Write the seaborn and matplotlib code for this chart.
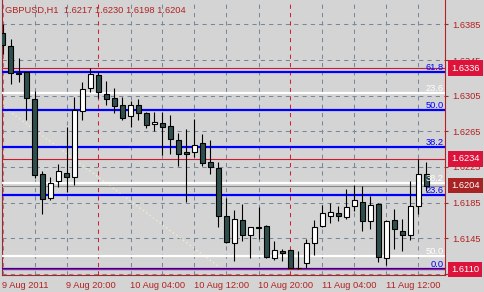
import matplotlib
matplotlib.use("Agg")
import matplotlib.pyplot as plt
import matplotlib.transforms as mtransforms
import seaborn as sns
import pandas as pd
import numpy as np

# ---------------- data ----------------
title_text = "GBPUSD,H1  1.6217 1.6230 1.6198 1.6204"

opens = [1.6375, 1.6361, 1.6330, 1.6331, 1.6301, 1.6217, 1.6190, 1.6209, 1.6218, 1.6214,
         1.6288, 1.6314, 1.6328, 1.6307, 1.6302, 1.6295, 1.6282, 1.6295, 1.6285, 1.6273,
         1.6274, 1.6271, 1.6255, 1.6242, 1.6242, 1.6252, 1.6231, 1.6224, 1.6170, 1.6140,
         1.6165, 1.6149, 1.6157, 1.6159, 1.6123, 1.6130, 1.6132, 1.6112, 1.6117, 1.6140,
         1.6159, 1.6170, 1.6173, 1.6169, 1.6181, 1.6186, 1.6164, 1.6183, 1.6123, 1.6165,
         1.6153, 1.6149, 1.6181, 1.6217]
highs = [1.6386, 1.6369, 1.6347, 1.6331, 1.6310, 1.6220, 1.6214, 1.6228, 1.6270, 1.6303,
         1.6320, 1.6336, 1.6331, 1.6322, 1.6314, 1.6303, 1.6299, 1.6301, 1.6287, 1.6287,
         1.6287, 1.6283, 1.6263, 1.6267, 1.6279, 1.6262, 1.6255, 1.6230, 1.6190, 1.6177,
         1.6183, 1.6158, 1.6180, 1.6160, 1.6142, 1.6133, 1.6132, 1.6130, 1.6144, 1.6165,
         1.6182, 1.6184, 1.6181, 1.6200, 1.6205, 1.6204, 1.6192, 1.6184, 1.6165, 1.6178,
         1.6167, 1.6209, 1.6234, 1.6230]
lows = [1.6352, 1.6318, 1.6320, 1.6278, 1.6212, 1.6172, 1.6188, 1.6202, 1.6197, 1.6205,
        1.6278, 1.6309, 1.6302, 1.6295, 1.6286, 1.6278, 1.6270, 1.6278, 1.6269, 1.6265,
        1.6238, 1.6239, 1.6226, 1.6186, 1.6236, 1.6226, 1.6217, 1.6158, 1.6140, 1.6119,
        1.6142, 1.6123, 1.6144, 1.6123, 1.6121, 1.6119, 1.6111, 1.6110, 1.6112, 1.6126,
        1.6158, 1.6162, 1.6164, 1.6167, 1.6176, 1.6153, 1.6155, 1.6118, 1.6115, 1.6133,
        1.6130, 1.6143, 1.6172, 1.6198]
closes = [1.6362, 1.6330, 1.6329, 1.6302, 1.6216, 1.6189, 1.6207, 1.6220, 1.6214, 1.6289,
          1.6313, 1.6329, 1.6309, 1.6301, 1.6293, 1.6280, 1.6295, 1.6286, 1.6272, 1.6275,
          1.6270, 1.6256, 1.6239, 1.6240, 1.6250, 1.6229, 1.6225, 1.6170, 1.6141, 1.6166,
          1.6148, 1.6157, 1.6156, 1.6124, 1.6132, 1.6128, 1.6112, 1.6111, 1.6140, 1.6158,
          1.6173, 1.6174, 1.6170, 1.6180, 1.6188, 1.6164, 1.6182, 1.6124, 1.6164, 1.6155,
          1.6148, 1.6181, 1.6217, 1.6204]

time_label_bars = [0, 8, 16, 24, 32, 40, 48]
time_labels = ["9 Aug 2011", "9 Aug 20:00", "10 Aug 04:00", "10 Aug 12:00",
               "10 Aug 20:00", "11 Aug 04:00", "11 Aug 12:00"]
day_separator_bars = [12, 36]
grid_bars = [0, 4, 8, 16, 20, 24, 28, 32, 40, 44, 48, 52]

price_ticks = [1.6105, 1.6145, 1.6185, 1.6225, 1.6265, 1.6305, 1.6345, 1.6385]

blue_fib_levels = [1.6110, 1.6193, 1.6247, 1.6289, 1.6332]
blue_fib_labels = ["0.0", "23.6", "38.2", "50.0", "61.8"]
white_fib_levels = [1.6308, 1.6207, 1.6125]
white_fib_labels = ["23.6", "38.2", "50.0"]

red_line_levels = [1.6336, 1.6234, 1.6110]
bid_level = 1.6204
price_boxes = [1.6336, 1.6234, 1.6204, 1.6110]
price_box_colors = ["#dc143c", "#dc143c", "#a82424", "#dc143c"]

trend_x = [-1.0, 27.2]
trend_y = [1.6300, 1.6112]

# ---------------- style ----------------
BG = "#d4d4d4"
DARKRED = "#b22222"
sns.set_style("white", rc={"axes.facecolor": BG, "figure.facecolor": BG})
plt.rcParams["font.family"] = ["Liberation Sans", "DejaVu Sans"]
FS = 6.7

fig = plt.figure(figsize=(4.84, 2.92), dpi=100)
W, H = 484, 292
ax = fig.add_axes([2 / W, 1 - 275 / H, 443 / W, 275 / H])
ax.set_facecolor(BG)

n = len(opens)
df = pd.DataFrame({"bar": np.arange(n), "open": opens, "high": highs,
                   "low": lows, "close": closes})

ax.set_xlim(-0.0625, 55.3125)
ax.set_ylim(1.61036, 1.64124)

# grid
grid_kw = dict(lw=0.75, linestyle=(0, (4, 4)), zorder=1)
for b in grid_bars:
    ax.axvline(b, color="#778899", **grid_kw)
for p in price_ticks:
    ax.axhline(p, color="#778899", **grid_kw)
for b in day_separator_bars:
    ax.axvline(b, color="#cc2233", **grid_kw)

# trend (dotted) line
sns.lineplot(x=trend_x, y=trend_y, ax=ax, color="#f2eed0", lw=1.0,
             linestyle=(0, (1, 2)), zorder=2)

# fib levels
for lv in white_fib_levels:
    ax.axhline(lv, color="white", lw=1.6, zorder=3)
for lv in blue_fib_levels:
    ax.axhline(lv, color="#0000ff", lw=1.6, zorder=3)
for lv in red_line_levels:
    ax.axhline(lv, color="#cc1a33", lw=0.8, zorder=3.2)
ax.axhline(bid_level, color="#8a8a8a", lw=0.8, zorder=3.2)

# candles
up = df["close"] >= df["open"]
ax.vlines(df["bar"], df["low"], df["high"], color="black", lw=0.8, zorder=5)
ax.bar(df["bar"], df["close"] - df["open"], bottom=df["open"], width=0.6,
       color=np.where(up, "white", "#2f4f4f"), edgecolor="black",
       linewidth=0.8, zorder=6)

# fib labels
blend = mtransforms.blended_transform_factory(ax.transAxes, ax.transData)
lab_tr = mtransforms.offset_copy(blend, fig=fig, x=0, y=2, units="dots")
for lv, lb in zip(blue_fib_levels, blue_fib_labels):
    ax.text(0.997, lv, lb, color="#0000ff", fontsize=FS, ha="right",
            va="baseline", transform=lab_tr, zorder=8)
for lv, lb in zip(white_fib_levels, white_fib_labels):
    ax.text(0.997, lv, lb, color="white", fontsize=FS, ha="right",
            va="baseline", transform=lab_tr, zorder=8)

# axes / ticks
for s in ["left", "right", "bottom"]:
    ax.spines[s].set_color(DARKRED)
    ax.spines[s].set_linewidth(0.8)
ax.spines["top"].set_visible(False)

ax.yaxis.tick_right()
ax.set_yticks(price_ticks)
ax.set_yticklabels([f"{p:.4f}" for p in price_ticks])
ax.set_xticks(time_label_bars)
ax.set_xticklabels(time_labels, ha="left")
ax.tick_params(axis="both", colors=DARKRED, labelcolor=DARKRED, labelsize=FS,
               length=2.5, width=0.8, direction="out", pad=1.5)
ax.tick_params(axis="y", pad=2.5)

# price boxes on the right
box_tr = mtransforms.offset_copy(blend, fig=fig, x=6, y=0, units="dots")
for p, c in zip(price_boxes, price_box_colors):
    ax.text(1.0, p, f"{p:.4f}", color="white", fontsize=FS, ha="left",
            va="center", transform=box_tr, clip_on=False, zorder=20,
            bbox=dict(boxstyle="square,pad=0.35", fc=c, ec="none"))

# title
fig.text(5 / W, 1 - 10 / H, title_text, color=DARKRED, fontsize=FS,
         ha="left", va="center")

fig.savefig("out.png", dpi=100, facecolor=BG)
